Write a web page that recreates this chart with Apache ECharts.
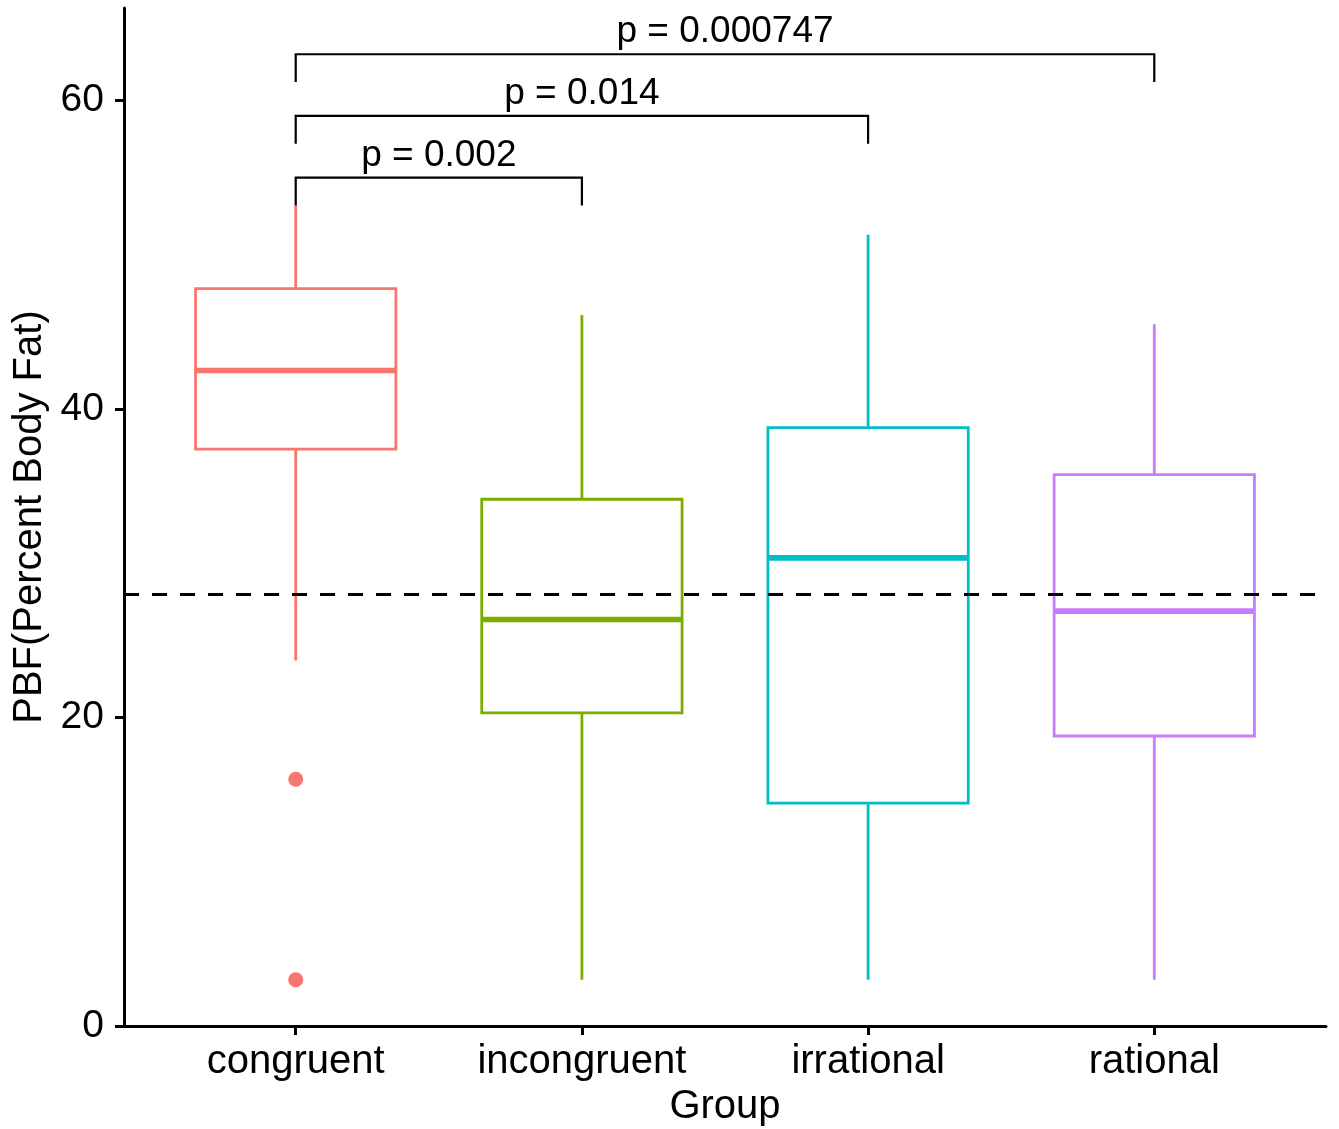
<!DOCTYPE html>
<html>
<head>
<meta charset="utf-8">
<script src="https://cdn.jsdelivr.net/npm/echarts@6/dist/echarts.min.js"></script>
<style>
  html, body { margin: 0; padding: 0; background: #fff; }
  #chart { width: 1339px; height: 1129px; }
</style>
</head>
<body>
<div id="chart"></div>
<script>
// ---- data ----
const categories = ['congruent', 'incongruent', 'irrational', 'rational'];
const xTicks = [1, 2, 3, 4];
const yTicks = [0, 20, 40, 60];
const lowerWhisker = [23.7, 3.0, 3.0, 3.0];
const q1 = [37.4, 20.3, 14.45, 18.8];
const median = [42.5, 26.35, 30.35, 26.9];
const q3 = [47.8, 34.15, 38.8, 35.75];
const upperWhisker = [53.2, 46.1, 51.3, 45.5];
const outlierGroup = [1, 1];
const outlierValue = [16.0, 3.0];
const referenceValue = 28;
const pLabels = ['p = 0.002', 'p = 0.014', 'p = 0.000747'];
const pFrom = [1, 1, 1];
const pTo = [2, 3, 4];
const pBracketY = [55, 59, 63];
const pTip = 1.8;

const groupColors = ['#F8766D', '#7CAE00', '#00BFC4', '#C77CFF'];
const FONT = "'Liberation Sans', Arial, Helvetica, sans-serif";
const boxWidth = 0.7;

const boxData = categories.map((c, i) => [xTicks[i], lowerWhisker[i], q1[i], median[i], q3[i], upperWhisker[i]]);
const outlierData = outlierGroup.map((g, i) => [g, outlierValue[i]]);
const bracketData = pLabels.map((l, i) => [pFrom[i], pTo[i], pBracketY[i], i]);

const chart = echarts.init(document.getElementById('chart'), null, { renderer: 'canvas' });

chart.setOption({
  backgroundColor: '#ffffff',
  animation: false,
  grid: { left: 124, right: 13, top: 8, bottom: 103, containLabel: false, outerBoundsMode: 'none' },
  xAxis: {
    type: 'value',
    min: 0.4,
    max: 4.6,
    name: 'Group',
    nameLocation: 'middle',
    nameGap: 61,
    nameTextStyle: { fontSize: 40, color: '#000', fontFamily: FONT },
    axisLine: { show: true, lineStyle: { color: '#000', width: 3 } },
    axisTick: { show: true, customValues: xTicks, length: 9, lineStyle: { color: '#000', width: 3 } },
    axisLabel: {
      customValues: xTicks,
      formatter: v => categories[Math.round(v) - 1] || '',
      fontSize: 40, color: '#000', fontFamily: FONT, margin: 16
    },
    splitLine: { show: false }
  },
  yAxis: {
    type: 'value',
    min: 0,
    max: 66,
    name: 'PBF(Percent Body Fat)',
    nameLocation: 'middle',
    nameGap: 67,
    nameRotate: 90,
    nameTextStyle: { fontSize: 40, color: '#000', fontFamily: FONT },
    axisLine: { show: true, lineStyle: { color: '#000', width: 3 } },
    axisTick: { show: true, customValues: yTicks, length: 9, lineStyle: { color: '#000', width: 3 } },
    axisLabel: { customValues: yTicks, fontSize: 39, color: '#000', fontFamily: FONT, margin: 20 },
    splitLine: { show: false }
  },
  series: [
    {
      type: 'custom',
      name: 'boxes',
      data: boxData,
      z: 2,
      renderItem: function (params, api) {
        const x = api.value(0);
        const color = groupColors[params.dataIndex];
        const pLow = api.coord([x, api.value(1)]);
        const pQ1 = api.coord([x, api.value(2)]);
        const pMed = api.coord([x, api.value(3)]);
        const pQ3 = api.coord([x, api.value(4)]);
        const pHigh = api.coord([x, api.value(5)]);
        const left = api.coord([x - boxWidth / 2, api.value(3)])[0];
        const right = api.coord([x + boxWidth / 2, api.value(3)])[0];
        return {
          type: 'group',
          children: [
            { type: 'line', shape: { x1: pLow[0], y1: pLow[1], x2: pQ1[0], y2: pQ1[1] },
              style: { stroke: color, lineWidth: 2.8 } },
            { type: 'line', shape: { x1: pQ3[0], y1: pQ3[1], x2: pHigh[0], y2: pHigh[1] },
              style: { stroke: color, lineWidth: 2.8 } },
            { type: 'rect', shape: { x: left, y: pQ3[1], width: right - left, height: pQ1[1] - pQ3[1] },
              style: { fill: '#ffffff', stroke: color, lineWidth: 2.8 } },
            { type: 'line', shape: { x1: left, y1: pMed[1], x2: right, y2: pMed[1] },
              style: { stroke: color, lineWidth: 5.6 } }
          ]
        };
      }
    },
    {
      type: 'scatter',
      name: 'outliers',
      data: outlierData,
      symbol: 'circle',
      symbolSize: 15,
      itemStyle: { color: groupColors[0], opacity: 1 },
      z: 3,
      markLine: {
        silent: true,
        symbol: 'none',
        label: { show: false },
        lineStyle: { color: '#000', type: [15, 13], width: 3 },
        data: [{ yAxis: referenceValue }],
        z: 6
      }
    },
    {
      type: 'custom',
      name: 'brackets',
      data: bracketData,
      z: 4,
      renderItem: function (params, api) {
        const x1 = api.value(0), x2 = api.value(1), y = api.value(2);
        const a = api.coord([x1, y - pTip]);
        const b = api.coord([x1, y]);
        const c = api.coord([x2, y]);
        const d = api.coord([x2, y - pTip]);
        const mid = api.coord([(x1 + x2) / 2, y]);
        return {
          type: 'group',
          children: [
            { type: 'polyline', shape: { points: [a, b, c, d] },
              style: { stroke: '#000', lineWidth: 2.2, fill: null } },
            { type: 'text', x: mid[0], y: mid[1] - 22,
              style: { text: pLabels[api.value(3)], fill: '#000', fontSize: 37, fontFamily: FONT,
                       align: 'center', verticalAlign: 'middle' } }
          ]
        };
      }
    }
  ]
});
</script>
</body>
</html>
